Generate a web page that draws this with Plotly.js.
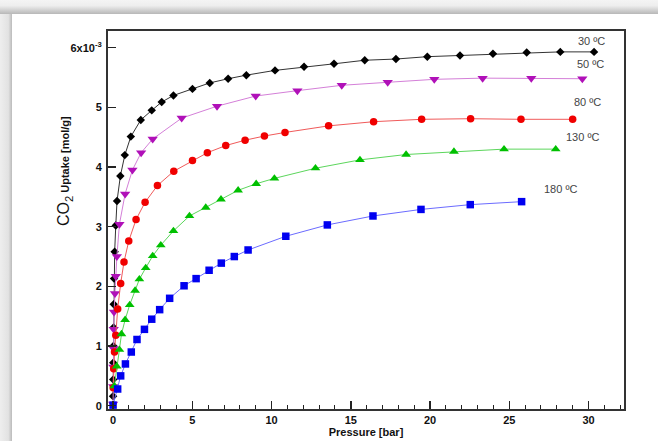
<!DOCTYPE html>
<html><head><meta charset="utf-8">
<script src="https://cdn.plot.ly/plotly-3.0.1.min.js"></script>
<style>
html,body{margin:0;padding:0;width:658px;height:441px;overflow:hidden;background:#fff;}
#topband{position:absolute;left:0;top:0;width:658px;height:14px;background:linear-gradient(#f4f4f4,#eeeeee 40%,#b8b8b8);}
#leftband{position:absolute;left:0;top:14px;width:12px;height:427px;background:linear-gradient(to right,#eeeeee,#e2e2e2 70%,#bbbbbb);}
#chart{position:absolute;left:0;top:0;width:658px;height:441px;}
</style></head>
<body>
<div id="topband"></div><div id="leftband"></div>
<div id="chart"></div>
<script>
// Pressure [bar] and CO2 uptake [10^-3 mol/g]
const x30 = [0.0, 0.01, 0.01, 0.02, 0.03, 0.04, 0.06, 0.1, 0.17, 0.25, 0.46, 0.74, 1.12, 1.75, 2.44, 3.07, 3.81, 5.01, 6.10, 7.26, 8.41, 10.22, 12.05, 13.94, 15.88, 17.85, 19.83, 21.89, 23.97, 26.10, 28.22, 30.35];
const y30 = [0.16, 0.44, 0.72, 1.0, 1.31, 1.70, 2.13, 2.58, 3.02, 3.43, 3.85, 4.20, 4.51, 4.79, 4.95, 5.09, 5.20, 5.31, 5.41, 5.48, 5.54, 5.62, 5.68, 5.73, 5.79, 5.81, 5.85, 5.87, 5.90, 5.92, 5.93, 5.93];
const x50 = [0.0, 0.01, 0.02, 0.03, 0.04, 0.06, 0.12, 0.17, 0.24, 0.40, 0.76, 1.22, 1.77, 2.50, 4.33, 6.56, 9.0, 11.63, 14.43, 17.33, 20.27, 23.32, 26.39, 29.61];
const y50 = [0.03, 0.32, 0.65, 0.96, 1.28, 1.57, 1.88, 2.17, 2.50, 3.04, 3.55, 3.95, 4.24, 4.47, 4.82, 5.02, 5.19, 5.28, 5.37, 5.42, 5.47, 5.49, 5.49, 5.48];
const x80 = [0.01, 0.04, 0.09, 0.17, 0.29, 0.48, 0.69, 0.99, 1.45, 2.02, 2.80, 3.83, 5.01, 5.95, 7.11, 8.33, 9.55, 10.85, 13.6, 16.44, 19.47, 22.56, 25.74, 29.0];
const y80 = [0.30, 0.62, 0.90, 1.18, 1.62, 2.05, 2.41, 2.76, 3.12, 3.41, 3.69, 3.93, 4.11, 4.24, 4.36, 4.45, 4.52, 4.58, 4.69, 4.76, 4.80, 4.81, 4.80, 4.80];
const x130 = [0.08, 0.23, 0.40, 0.53, 0.76, 1.05, 1.39, 1.66, 2.06, 2.50, 3.01, 3.81, 4.82, 5.85, 6.81, 7.89, 9.03, 10.18, 12.77, 15.58, 18.49, 21.51, 24.67, 27.93];
const y130 = [0.33, 0.66, 0.94, 1.20, 1.44, 1.69, 1.93, 2.12, 2.31, 2.51, 2.69, 2.93, 3.18, 3.32, 3.46, 3.61, 3.72, 3.81, 3.98, 4.12, 4.21, 4.26, 4.30, 4.30];
const x180 = [0.0, 0.29, 0.48, 0.78, 1.15, 1.51, 1.98, 2.44, 2.94, 3.57, 4.48, 5.24, 6.06, 6.83, 7.65, 8.52, 10.90, 13.52, 16.4, 19.43, 22.54, 25.78];
const y180 = [0.01, 0.28, 0.50, 0.70, 0.90, 1.11, 1.28, 1.45, 1.61, 1.80, 2.01, 2.13, 2.27, 2.39, 2.50, 2.61, 2.84, 3.03, 3.18, 3.29, 3.37, 3.42];

const seriesLabels = ["30 ºC", "50 ºC", "80 ºC", "130 ºC", "180 ºC"];
const labelX = [30.2, 30.15, 29.93, 29.6, 28.25];
const labelY = [6.11, 5.73, 5.09, 4.51, 3.64];

const xTickVals = [0, 5, 10, 15, 20, 25, 30];
const yTickVals = [0, 1, 2, 3, 4, 5, 6];
const yTickText = ["0", "1", "2", "3", "4", "5", "6x10<sup>-3</sup>"];

const xs = [x30, x50, x80, x130, x180];
const ys = [y30, y50, y80, y130, y180];
const markerSym = ["diamond", "triangle-down", "circle", "triangle-up", "square"];
const markerCol = ["#000000", "#b010b8", "#f00000", "#00c000", "#0000f0"];
const lineCol = ["#333333", "#d47fd8", "#f05a5a", "#5cd65c", "#6b6bff"];
const markerSize = [6.5, 9, 7.5, 8.5, 7.5];

const traces = xs.map((x, i) => ({
  x: x, y: ys[i], type: "scatter", mode: "lines+markers", name: seriesLabels[i],
  line: {color: lineCol[i], width: 1},
  marker: {symbol: markerSym[i], color: markerCol[i], size: markerSize[i]},
  showlegend: false
}));

const annotations = seriesLabels.map((t, i) => ({
  x: labelX[i], y: labelY[i], xref: "x", yref: "y", text: t, showarrow: false,
  font: {family: "Liberation Sans, Arial, sans-serif", size: 11, color: "#444"}
}));
annotations.push({
  xref: "paper", yref: "paper", x: -0.083, y: 0.63, textangle: -90, showarrow: false,
  xanchor: "center", yanchor: "middle",
  text: "<span style='font-size:16px'>CO<sub>2</sub></span> <b>Uptake [mol/g]</b>",
  font: {family: "Liberation Sans, Arial, sans-serif", size: 11, color: "#111"}
});

const layout = {
  width: 658, height: 441,
  margin: {l: 108, r: 34, t: 31, b: 32},
  paper_bgcolor: "rgba(0,0,0,0)", plot_bgcolor: "#ffffff",
  font: {family: "Liberation Sans, Arial, sans-serif", color: "#111"},
  xaxis: {
    range: [-0.32, 32.24], tickvals: xTickVals, ticks: "inside", ticklen: 8, tickwidth: 1.5, tickcolor: "#222",
    minor: {dtick: 1, tick0: 0, ticks: "inside", ticklen: 4, tickwidth: 1, tickcolor: "#222", showgrid: false},
    showgrid: false, zeroline: false, showline: true, linewidth: 2, linecolor: "#333", mirror: true,
    tickfont: {size: 11, weight: "bold", color: "#111"},
    title: {text: "Pressure [bar]", font: {size: 11, weight: "bold", color: "#111"}, standoff: 0}
  },
  yaxis: {
    range: [-0.055, 6.28], tickvals: yTickVals, ticktext: yTickText, ticks: "inside", ticklen: 8, tickwidth: 1.5, tickcolor: "#222",
    showgrid: false, zeroline: false, showline: true, linewidth: 2, linecolor: "#333", mirror: true,
    tickfont: {size: 11, weight: "bold", color: "#111"}, ticklabelstandoff: 2
  },
  annotations: annotations
};

Plotly.newPlot("chart", traces, layout, {displayModeBar: false, staticPlot: true});
</script>
</body></html>
